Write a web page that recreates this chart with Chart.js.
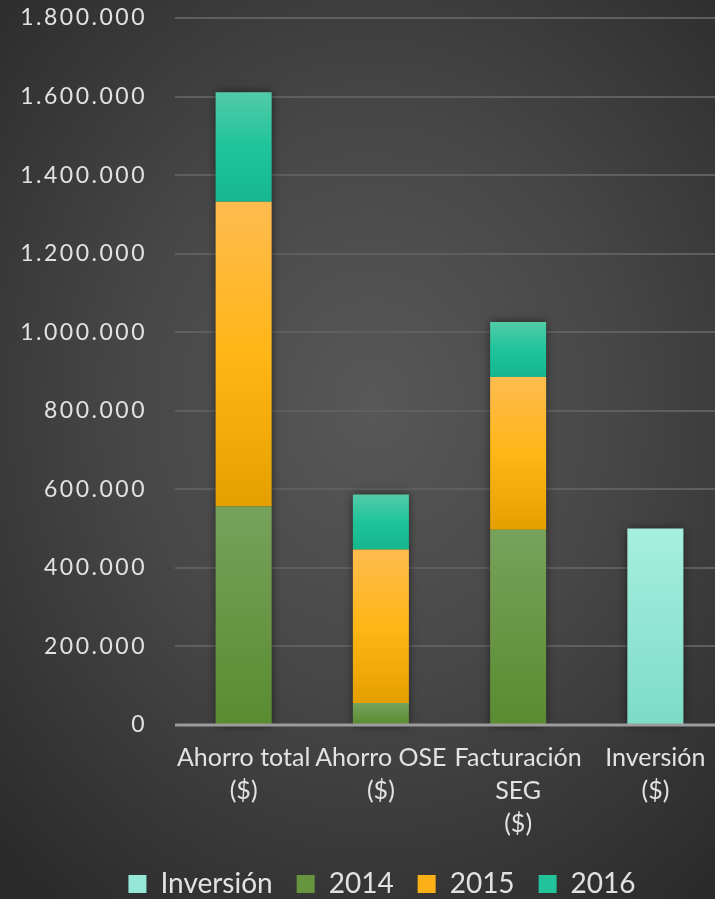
<!DOCTYPE html>
<html><head><meta charset="utf-8">
<script src="https://cdn.jsdelivr.net/npm/chart.js@4/dist/chart.umd.min.js"></script>
<style>
html,body{margin:0;padding:0;width:715px;height:899px;overflow:hidden;}
body{background:radial-gradient(ellipse 75% 70% at 52% 45%, #585858 0%, #474747 45%, #2a2a2a 100%);}
#wrap{position:absolute;left:0;top:0;width:724px;height:899px;}
</style></head>
<body><div id="wrap"><canvas id="c" width="724" height="899"></canvas></div>
<script>
const categories = [['Ahorro total','($)'], ['Ahorro OSE','($)'], ['Facturación','SEG','($)'], ['Inversión','($)']];
const seriesNames = ['Inversión', '2014', '2015', '2016'];
const inversion = [null, null, null, 500000];
const v2014 = [556000, 56000, 497000, null];
const v2015 = [776000, 391000, 389000, null];
const v2016 = [279000, 140000, 140000, null];
const yTicks = [0, 200000, 400000, 600000, 800000, 1000000, 1200000, 1400000, 1600000, 1800000];

const palettes = [
  ['#a6efdf', '#7cdcc6'],
  ['#77a25c', '#5a8b30'],
  ['#ffbb4f', '#ffb616', '#e4a000'],
  ['#52cba8', '#1fc49a', '#16b68e']
];
const solid = ['#95e8d6', '#67953f', '#fbb018', '#22c29a'];
const allData = [inversion, v2014, v2015, v2016];

function stackRange(di, j) {
  let start = 0;
  for (let k = 0; k < di; k++) start += allData[k][j] || 0;
  return [start, start + (allData[di][j] || 0)];
}
function bg(ctx) {
  const chart = ctx.chart;
  if (ctx.type !== 'data' || !chart.chartArea) return solid[ctx.datasetIndex];
  const y = chart.scales.y;
  const [s, e] = stackRange(ctx.datasetIndex, ctx.dataIndex);
  const top = y.getPixelForValue(e), bot = y.getPixelForValue(s);
  if (!(bot > top)) return solid[ctx.datasetIndex];
  const g = chart.ctx.createLinearGradient(0, top, 0, bot);
  const p = palettes[ctx.datasetIndex];
  p.forEach((c, i) => g.addColorStop(i / (p.length - 1), c));
  return g;
}

const shadowPlugin = {
  id: 'shadow',
  beforeDatasetsDraw(chart) {
    const c = chart.ctx, x = chart.scales.x, y = chart.scales.y;
    c.save();
    c.shadowColor = 'rgba(0,0,0,0.55)';
    c.shadowBlur = 9;
    c.fillStyle = '#444';
    categories.forEach((_, j) => {
      let tot = 0; allData.forEach(a => tot += a[j] || 0);
      const cx = x.getPixelForValue(j);
      const w = 56;
      const top = y.getPixelForValue(tot), bot = y.getPixelForValue(0);
      c.fillRect(cx - w / 2, top, w, bot - top);
    });
    c.restore();
  },
  afterUpdate(chart) {
    const s = chart.scales.y;
    if (s && !s._wrapped) {
      const orig = s.drawLabels.bind(s);
      s.drawLabels = function (area) {
        const c = chart.ctx; c.save(); c.letterSpacing = '2.5px'; orig(area); c.restore();
      };
      s._wrapped = true;
    }
  },
  afterLayout(chart) {
    if (chart.legend) { chart.legend.left += 40; chart.legend.top += 9; chart.legend.bottom += 9; }
  }
};

new Chart(document.getElementById('c'), {
  type: 'bar',
  data: {
    labels: categories,
    datasets: seriesNames.map((n, i) => ({
      label: n,
      data: allData[i],
      backgroundColor: bg,
      borderWidth: 0,
      categoryPercentage: 1,
      barPercentage: 0.408
    }))
  },
  options: {
    responsive: false,
    animation: false,
    devicePixelRatio: 1,
    layout: { padding: { top: 18, left: 0, right: 0, bottom: 0 } },
    plugins: {
      tooltip: { enabled: false },
      legend: {
        position: 'bottom',
        labels: {
          color: '#e2e2e2',
          font: { family: 'Lato', size: 28 },
          boxWidth: 18, boxHeight: 18, padding: 24,
          generateLabels(chart) {
            return seriesNames.map((n, i) => ({
              text: n, fillStyle: solid[i], strokeStyle: solid[i], lineWidth: 0,
              fontColor: '#e2e2e2', datasetIndex: i, hidden: false
            }));
          }
        }
      }
    },
    scales: {
      x: {
        stacked: true,
        grid: { display: false, drawTicks: false },
        border: { display: false },
        ticks: { color: '#e2e2e2', font: { family: 'Lato', size: 25, lineHeight: 1.32 }, padding: 16, maxRotation: 0, autoSkip: false },
        afterFit(s) { s.height = 112; s.paddingLeft = 0; s.paddingRight = 0; }
      },
      y: {
        stacked: true,
        min: 0, max: 1800000,
        afterBuildTicks(s) { s.ticks = yTicks.map(v => ({ value: v })); },
        grid: { color: '#5f5f5f', lineWidth: 2, drawTicks: false },
        border: { display: false },
        ticks: {
          color: '#e2e2e2', font: { family: 'Lato', size: 23 }, padding: 28,
          callback: v => v.toLocaleString('de-DE')
        },
        afterFit(s) { s.width = 175; s.paddingTop = 0; s.paddingBottom = 0; }
      }
    }
  },
  plugins: [shadowPlugin, {
    id: 'axisline',
    afterDatasetsDraw(chart) {
      const c = chart.ctx, a = chart.chartArea, y = chart.scales.y.getPixelForValue(0);
      c.save(); c.strokeStyle = '#9c9c9c'; c.lineWidth = 3;
      c.beginPath(); c.moveTo(a.left, y); c.lineTo(a.right, y); c.stroke(); c.restore();
    }
  }]
});
</script></body></html>
